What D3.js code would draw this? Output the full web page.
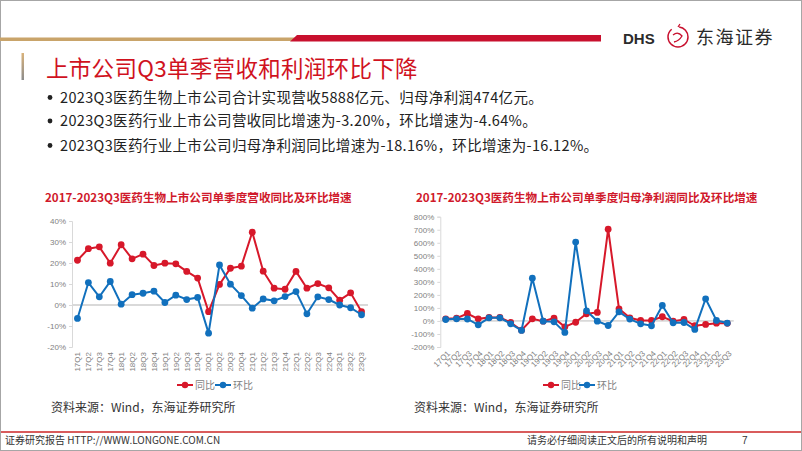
<!DOCTYPE html>
<html><head><meta charset="utf-8">
<script src="https://cdn.jsdelivr.net/npm/d3@7"></script>
<style>body{margin:0;background:#fff} svg{display:block}</style>
</head><body>
<svg id="s" width="802" height="451"></svg>
<script>
const quarters = ["17Q1","17Q2","17Q3","17Q4","18Q1","18Q2","18Q3","18Q4","19Q1","19Q2","19Q3","19Q4","20Q1","20Q2","20Q3","20Q4","21Q1","21Q2","21Q3","21Q4","22Q1","22Q2","22Q3","22Q4","23Q1","23Q2","23Q3"];
const revYoY = [21.3,26.8,27.7,19.9,28.7,22.0,24.2,18.8,19.9,19.6,16.0,12.8,-3.2,9.8,17.5,18.5,34.7,16.1,8.0,7.5,16.0,8.0,10.2,8.2,2.3,5.8,-3.2];
const revQoQ = [-6.4,10.7,3.9,11.2,0.4,4.9,5.6,6.6,1.2,4.7,2.6,3.6,-13.4,19.1,9.9,4.5,-1.5,2.9,2.0,4.0,6.4,-4.2,3.9,2.6,0.0,-1.3,-4.64];
const profitYoY = [16,21,57,16,27,27,-12,-71,16,-2,21,-45,-10,55,65,704,93,24,4,4,32,-2,11,-37,-27,-17,-18.16];
const profitQoQ = [11,16,15,-30,24,24,-22,-73,328,-2,-7,-88,605,78,-2,-35,70,14,-22,-37,119,-14,-12,-65,170,4,-16.12];
const revTicks = [-20,-10,0,10,20,30,40];
const profitTicks = [-200,-100,0,100,200,300,400,500,600,700,800];
const seriesNames = ["同比","环比"];
const bullets = [
  "2023Q3医药生物上市公司合计实现营收5888亿元、归母净利润474亿元。",
  "2023Q3医药行业上市公司营收同比增速为-3.20%，环比增速为-4.64%。",
  "2023Q3医药行业上市公司归母净利润同比增速为-18.16%，环比增速为-16.12%。"
];
const pageTitle = "上市公司Q3单季营收和利润环比下降";
const chartTitles = ["2017-2023Q3医药生物上市公司单季度营收同比及环比增速","2017-2023Q3医药生物上市公司单季度归母净利润同比及环比增速"];
const sourceText = "资料来源：Wind，东海证券研究所";

const RED = "#d7182a", BLUE = "#1170bd";
const FONT = "'Liberation Sans','Noto Sans CJK SC',sans-serif";
const CJK = "'Noto Sans CJK SC','Liberation Sans',sans-serif";
const svg = d3.select("#s");

// border
svg.append("rect").attr("x",0.5).attr("y",0.5).attr("width",801).attr("height",450).attr("fill","none").attr("stroke","#a6a6a6");

// header lines
svg.append("rect").attr("x",0).attr("y",37.5).attr("width",296).attr("height",3.5).attr("fill","#c9a46a");
svg.append("polygon").attr("points","290,41.5 297,35 601,35 601,41.5").attr("fill","#c8102e");
// logo
svg.append("text").attr("x",623).attr("y",43.5).attr("font-family","'Liberation Sans',sans-serif").attr("font-weight","bold").attr("font-size",15).attr("fill","#2b2b2b").text("DHS");
const lg = svg.append("g").attr("transform","translate(678,37)");
lg.append("circle").attr("r",10).attr("fill","none").attr("stroke","#c8102e").attr("stroke-width",1.5).attr("stroke-dasharray","40,8");
lg.append("path").attr("d","M-5,-2 Q0,-6 4,-1 Q1,4 -4,5 M0,-10 L2,-13").attr("fill","none").attr("stroke","#c8102e").attr("stroke-width",1.3);
svg.append("text").attr("x",696).attr("y",44).attr("font-family",CJK).attr("font-size",18).attr("fill","#2b2b2b").attr("letter-spacing",1.5).text("东海证券");

// title accent bar
const gradId = "acc";
const defs = svg.append("defs");
const gr = defs.append("linearGradient").attr("id",gradId).attr("x1",0).attr("y1",0).attr("x2",0).attr("y2",1);
gr.append("stop").attr("offset","0").attr("stop-color","#d9b27a");
gr.append("stop").attr("offset","1").attr("stop-color","#8c8c8c");
svg.append("rect").attr("x",21.5).attr("y",53).attr("width",2.5).attr("height",27).attr("fill",`url(#${gradId})`);
svg.append("text").attr("x",46).attr("y",76.5).attr("font-family",CJK).attr("font-size",22.5).attr("font-weight",400).attr("letter-spacing",0.3).attr("fill","#d0121e").text(pageTitle);

// bullets
const by = [97.5,121,145.5];
bullets.forEach((b,i)=>{
  svg.append("circle").attr("cx",50).attr("cy",by[i]).attr("r",2.4).attr("fill","#222");
  svg.append("text").attr("x",60).attr("y",by[i]+5).attr("font-family",CJK).attr("font-size",14.5).attr("fill","#222").attr("letter-spacing",0.35).text(b);
});

function drawChart(cfg){
  const g = svg.append("g");
  g.append("text").attr("x",cfg.titleX).attr("y",202).attr("font-family",CJK).attr("font-weight","bold").attr("font-size",11.6).attr("fill","#d0192b").text(cfg.title);
  const x = d3.scaleBand().domain(quarters).range(cfg.xr);
  const cx = q => x(q) + x.bandwidth()/2;
  const y = d3.scaleLinear().domain(cfg.domain).range([347,cfg.top]);
  const ax = g.append("g").attr("transform",`translate(${cfg.xr[0]},0)`)
    .call(d3.axisLeft(y).tickValues(cfg.ticks).tickSize(3).tickPadding(3).tickFormat(d=>d+"%"));
  ax.select(".domain").attr("stroke","#d9d9d9");
  ax.selectAll(".tick line").attr("stroke","#d9d9d9");
  ax.selectAll("text").attr("fill","#7f7f7f").attr("font-family",FONT).attr("font-size",8);
  g.append("line").attr("x1",cfg.xr[0]).attr("x2",cfg.xr[1]+1).attr("y1",y(0)).attr("y2",y(0)).attr("stroke","#d9d9d9").attr("stroke-width",1.8);
  // x labels
  g.selectAll(".xl").data(quarters).join("text")
    .attr("transform",q=>`translate(${cx(q)+cfg.lx},352) rotate(${cfg.rot})`)
    .attr("text-anchor","end").attr("dy","0.35em")
    .attr("font-family",FONT).attr("font-size",8).attr("fill","#7f7f7f").text(q=>q);
  const line = d3.line().x((d,i)=>cx(quarters[i])).y(d=>y(d));
  [[cfg.yoy,RED],[cfg.qoq,BLUE]].forEach(([arr,c])=>{
    g.append("path").datum(arr).attr("d",line).attr("fill","none").attr("stroke",c).attr("stroke-width",2);
    g.selectAll(null).data(arr).join("circle").attr("cx",(d,i)=>cx(quarters[i])).attr("cy",d=>y(d)).attr("r",3.4).attr("fill",c);
  });
  // legend
  const ly = 385;
  cfg.leg.forEach((lx,i)=>{
    const c = i===0?RED:BLUE;
    g.append("line").attr("x1",lx).attr("x2",lx+16).attr("y1",ly).attr("y2",ly).attr("stroke",c).attr("stroke-width",2);
    g.append("circle").attr("cx",lx+8).attr("cy",ly).attr("r",3.2).attr("fill",c);
    g.append("text").attr("x",lx+18).attr("y",ly+3.5).attr("font-family",CJK).attr("font-size",10).attr("fill","#7f7f7f").text(seriesNames[i]);
  });
  svg.append("text").attr("x",cfg.srcX).attr("y",412).attr("font-family",CJK).attr("font-size",12).attr("fill","#333").text(sourceText);
}

drawChart({title:chartTitles[0],titleX:45,xr:[72,367],domain:[-20,40],top:221,ticks:revTicks,yoy:revYoY,qoq:revQoQ,rot:-90,lx:0,leg:[177,215],srcX:51});
drawChart({title:chartTitles[1],titleX:416,xr:[440.3,732.7],domain:[-200,800],top:216.7,ticks:profitTicks,yoy:profitYoY,qoq:profitQoQ,rot:-45,lx:3,leg:[543,579],srcX:414});

// footer
svg.append("line").attr("x1",1).attr("x2",801).attr("y1",432).attr("y2",432).attr("stroke","#d95c5c").attr("stroke-width",2);
svg.append("text").attr("x",5).attr("y",444).attr("font-family",CJK).attr("font-size",10).attr("fill","#333").text("证券研究报告 HTTP://WWW.LONGONE.COM.CN");
svg.append("text").attr("x",527).attr("y",444).attr("font-family",CJK).attr("font-size",10).attr("fill","#333").text("请务必仔细阅读正文后的所有说明和声明");
svg.append("text").attr("x",742).attr("y",444).attr("font-family",FONT).attr("font-size",10).attr("fill","#333").text("7");
</script>
</body></html>
